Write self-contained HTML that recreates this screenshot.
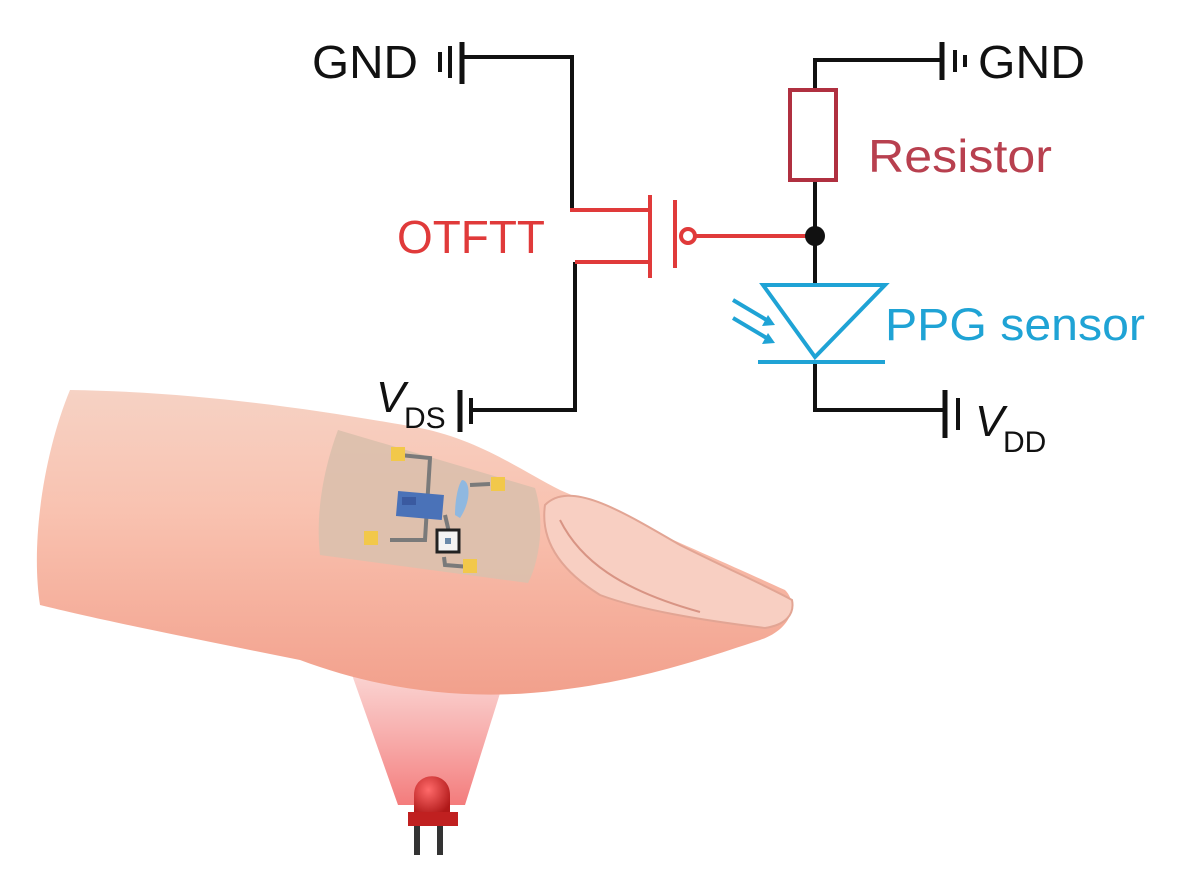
<!DOCTYPE html>
<html><head><meta charset="utf-8"><style>
html,body{margin:0;padding:0;background:#fff;}
svg{display:block;}
text{font-family:"Liberation Sans",sans-serif;}
</style></head><body>
<svg width="1184" height="878" viewBox="0 0 1184 878" xmlns="http://www.w3.org/2000/svg">
<defs>
<linearGradient id="skin" x1="0" y1="0" x2="0" y2="1">
<stop offset="0" stop-color="#f6d2c4"/>
<stop offset="0.4" stop-color="#f9c2b0"/>
<stop offset="1" stop-color="#f2a08c"/>
</linearGradient>
<linearGradient id="cone" x1="0" y1="0" x2="0" y2="1">
<stop offset="0" stop-color="#f8c8c4" stop-opacity="0.6"/>
<stop offset="1" stop-color="#f05050" stop-opacity="0.75"/>
</linearGradient>
<radialGradient id="led" cx="0.4" cy="0.35" r="0.7">
<stop offset="0" stop-color="#ff6a6a"/>
<stop offset="1" stop-color="#b01818"/>
</radialGradient>
</defs>

<path d="M345,655 L512,655 L465,805 L398,805 Z" fill="url(#cone)"/>

<path d="M70,390 C200,392 320,410 420,428 C480,440 520,470 560,490 C640,525 730,565 785,590 C800,605 790,630 760,640 C700,660 640,680 560,690 C470,702 380,690 300,660 C200,640 100,620 40,605 C30,540 45,450 70,390 Z" fill="url(#skin)"/>
<path d="M545,505 C570,480 620,510 680,545 C730,570 775,590 792,600 C795,615 785,625 765,628 C700,620 640,610 600,595 C560,570 540,540 545,505 Z" fill="#f8cfc2" stroke="#e2a594" stroke-width="2"/>
<path d="M560,520 C580,560 620,590 700,612" fill="none" stroke="#d89484" stroke-width="2"/>

<path d="M338,430 L535,488 C545,520 540,560 528,583 L320,555 C315,510 325,465 338,430 Z" fill="#dcc0ad" opacity="0.95"/>
<g stroke="#7a7a7a" stroke-width="4" fill="none">
<path d="M400,455 L430,458 L425,540 L390,540"/>
<path d="M470,485 L490,484"/>
<path d="M445,515 L452,545"/>
<path d="M444,557 L445,565 L470,567"/>
</g>
<rect x="397" y="493" width="46" height="25" fill="#4a72b8" transform="rotate(5 420 505)"/>
<rect x="402" y="497" width="14" height="8" fill="#3a5aa0"/>
<path d="M462,480 C470,480 472,500 460,518 L455,515 C455,500 458,485 462,480 Z" fill="#8fb8e0"/>
<rect x="437" y="530" width="22" height="22" fill="#f4f4f4" stroke="#222" stroke-width="3"/>
<rect x="445" y="538" width="6" height="6" fill="#6a8aaa"/>
<g fill="#f2c84a">
<rect x="391" y="447" width="14" height="14"/>
<rect x="491" y="477" width="14" height="14"/>
<rect x="364" y="531" width="14" height="14"/>
<rect x="463" y="559" width="14" height="14"/>
</g>

<rect x="414" y="825" width="6" height="30" fill="#333"/>
<rect x="437" y="825" width="6" height="30" fill="#333"/>
<path d="M414,815 L414,795 C414,770 450,770 450,795 L450,815 Z" fill="url(#led)"/>
<rect x="408" y="812" width="50" height="14" fill="#c02020"/>

<g stroke="#111" stroke-width="4" fill="none">
<path d="M462,57 L572,57 L572,210"/>
<path d="M575,262 L575,410 L470,410"/>
<line x1="440" y1="52" x2="440" y2="72"/>
<line x1="450" y1="46" x2="450" y2="78"/>
<line x1="462" y1="42" x2="462" y2="84" stroke-width="5"/>
<line x1="460" y1="390" x2="460" y2="432" stroke-width="5"/>
<line x1="471" y1="398" x2="471" y2="424"/>
</g>
<g stroke="#e03a3a" stroke-width="4" fill="none">
<path d="M570,210 L650,210"/>
<path d="M575,262 L650,262"/>
<line x1="650" y1="195" x2="650" y2="278"/>
<line x1="675" y1="200" x2="675" y2="268"/>
<circle cx="688" cy="236" r="7"/>
<line x1="695" y1="236" x2="812" y2="236"/>
</g>
<g stroke="#111" stroke-width="4" fill="none">
<path d="M815,88 L815,60 L940,60"/>
<line x1="815" y1="180" x2="815" y2="285"/>
<path d="M815,362 L815,410 L943,410"/>
<line x1="942" y1="42" x2="942" y2="80" stroke-width="5"/>
<line x1="955" y1="50" x2="955" y2="72"/>
<line x1="965" y1="55" x2="965" y2="67"/>
<line x1="945" y1="390" x2="945" y2="438" stroke-width="5"/>
<line x1="958" y1="398" x2="958" y2="430"/>
</g>
<circle cx="815" cy="236" r="10" fill="#111"/>
<rect x="790" y="90" width="46" height="90" fill="none" stroke="#b03040" stroke-width="4"/>
<g stroke="#1fa3d5" stroke-width="4" fill="none">
<path d="M763,285 L885,285 L815,357 Z"/>
<line x1="758" y1="362" x2="885" y2="362"/>
<line x1="733" y1="300" x2="770" y2="322"/>
<line x1="733" y1="318" x2="770" y2="340"/>
</g>
<path d="M775,325 L762,326 L768,315 Z" fill="#1fa3d5"/>
<path d="M775,343 L762,344 L768,333 Z" fill="#1fa3d5"/>

<text x="312" y="78" font-size="46" fill="#111" textLength="106" lengthAdjust="spacingAndGlyphs">GND</text>
<text x="978" y="78" font-size="46" fill="#111" textLength="107" lengthAdjust="spacingAndGlyphs">GND</text>
<text x="868" y="172" font-size="46" fill="#b8404f" textLength="184" lengthAdjust="spacingAndGlyphs">Resistor</text>
<text x="397" y="253" font-size="46" fill="#e03a3a" textLength="148" lengthAdjust="spacingAndGlyphs">OTFTT</text>
<text x="885" y="340" font-size="45" fill="#1fa3d5" textLength="260" lengthAdjust="spacingAndGlyphs">PPG sensor</text>
<text x="376" y="412" font-size="44" font-style="italic" fill="#111">V</text>
<text x="404" y="428" font-size="30" fill="#111">DS</text>
<text x="975" y="436" font-size="44" font-style="italic" fill="#111">V</text>
<text x="1003" y="452" font-size="30" fill="#111">DD</text>
</svg>
</body></html>
